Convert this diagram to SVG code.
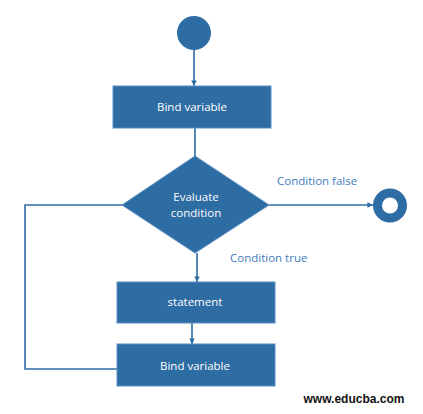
<svg xmlns="http://www.w3.org/2000/svg" width="423" height="414" viewBox="0 0 423 414">
<style>
.box{fill:#2E6CA4;stroke:#5B8FC4;stroke-width:1}
.lbl{fill:#FFFFFF;font-family:"Open Sans","Liberation Sans",sans-serif;font-size:11.5px;text-anchor:middle}
.edge{fill:none;stroke:#2E6CA4;stroke-width:1.6}
.elbl{fill:#3F7CBF;font-family:"Open Sans","Liberation Sans",sans-serif;font-size:11.5px}
</style>
<defs>
<marker id="ah" viewBox="0 0 6 6" refX="6" refY="3" markerWidth="3.5" markerHeight="3.5" orient="auto">
<path d="M0,0 L6,3 L0,6 Z" fill="#2E6CA4"/>
</marker>
</defs>
<rect width="423" height="414" fill="#FFFFFF"/>
<g id="connectors">
<path class="edge" d="M194,50 V86" marker-end="url(#ah)"/>
<path class="edge" d="M195,128 V157"/>
<path class="edge" d="M269,205 H373" marker-end="url(#ah)"/>
<path class="edge" d="M197,253 V282" marker-end="url(#ah)"/>
<path class="edge" d="M192,323 V344" marker-end="url(#ah)"/>
<path class="edge" d="M117,369 H25 V205 H122"/>
<text class="elbl" x="277" y="185">Condition false</text>
<text class="elbl" x="230" y="262">Condition true</text>
</g>
<g id="start">
<circle cx="194" cy="33" r="17" fill="#2E6CA4"/>
</g>
<g id="bind1">
<rect class="box" x="113" y="86" width="158" height="42"/>
<text class="lbl" x="192" y="111">Bind variable</text>
</g>
<g id="evaluate">
<polygon class="box" points="195,156 269,205 195,253 122,205"/>
<text class="lbl" x="196" y="201">Evaluate</text>
<text class="lbl" x="196" y="217">condition</text>
</g>
<g id="end">
<circle cx="390" cy="205.5" r="12.5" fill="none" stroke="#2E6CA4" stroke-width="9"/>
</g>
<g id="statement">
<rect class="box" x="117" y="282" width="158" height="41"/>
<text class="lbl" x="195" y="306">statement</text>
</g>
<g id="bind2">
<rect class="box" x="117" y="344" width="158" height="42"/>
<text class="lbl" x="195" y="370">Bind variable</text>
</g>
<text x="354" y="403" font-family="'Liberation Sans',Arial,sans-serif" font-size="12" font-weight="bold" fill="#111111" text-anchor="middle">www.educba.com</text>
</svg>
